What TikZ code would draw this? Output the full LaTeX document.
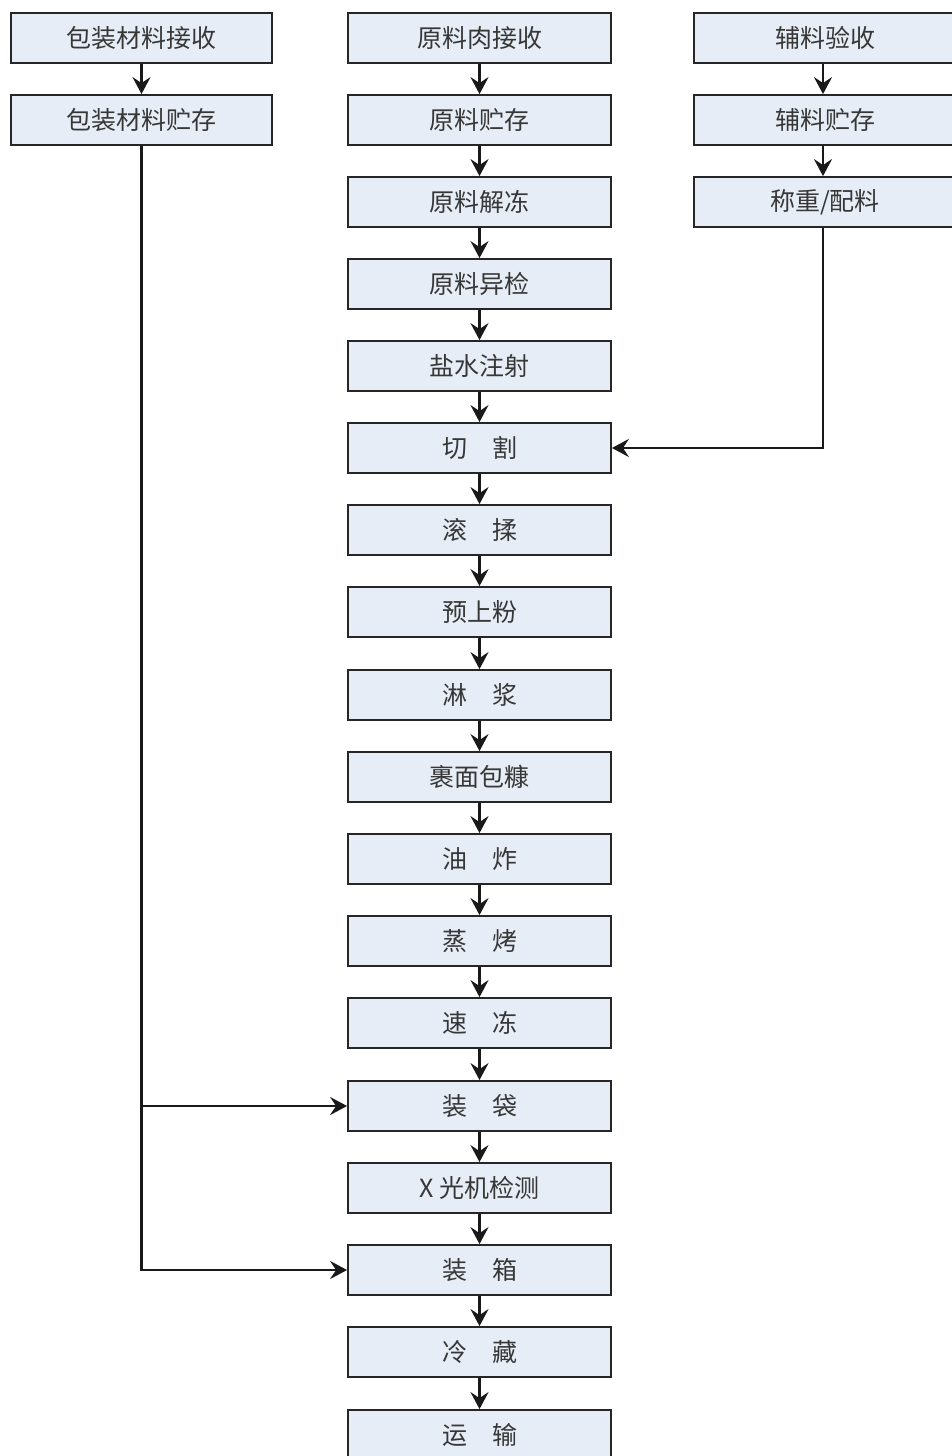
\documentclass[tikz,border=0pt]{standalone}
\usepackage{fontspec}
\newfontfamily\cjk{Noto Sans CJK SC}
\usepackage{tikz}
\usetikzlibrary{arrows.meta}
\definecolor{boxfill}{RGB}{230,237,246}
\definecolor{boxtext}{RGB}{55,55,55}

\begin{document}
\begin{tikzpicture}
      [x=1pt, y=-1pt,
       >={Stealth[length=17pt, width=18pt, inset=6pt]},
       every node/.style={font=\cjk\fontsize{25}{30}\selectfont, text=boxtext},
       stage/.style={draw=black!85, fill=boxfill, line width=1.8pt,
         minimum width=263pt, minimum height=50pt, inner sep=0pt},
       auxstage/.style={stage, minimum width=300pt},
       flow/.style={->, line width=2.4pt, black!90}]
      \useasboundingbox (0, 0) rectangle (951, 1456);

      % packaging materials
      \node (pkgin) [stage, minimum width=261pt] at (141.5, 38) {包装材料接收};
      \node (pkgstore) [stage, minimum width=261pt] at (141.5, 120) {包装材料贮存};

      % raw meat line
      \node (rawin) [stage] at (479.5, 38) {原料肉接收};
      \node (rawstore) [stage] at (479.5, 120) {原料贮存};
      \node (thaw) [stage] at (479.5, 202) {原料解冻};
      \node (inspect) [stage] at (479.5, 284) {原料异检};
      \node (brine) [stage] at (479.5, 366) {盐水注射};
      \node (cut) [stage] at (479.5, 448) {切　割};
      \node (tumble) [stage] at (479.5, 530) {滚　揉};
      \node (predust) [stage] at (479.5, 612) {预上粉};
      \node (batter) [stage] at (479.5, 695) {淋　浆};
      \node (crumb) [stage] at (479.5, 777) {裹面包糠};
      \node (fry) [stage] at (479.5, 859) {油　炸};
      \node (steam) [stage] at (479.5, 941) {蒸　烤};
      \node (freeze) [stage] at (479.5, 1023) {速　冻};
      \node (bag) [stage] at (479.5, 1106) {装　袋};
      \node (xray) [stage] at (479.5, 1188) {X 光机检测};
      \node (box) [stage] at (479.5, 1270) {装　箱};
      \node (chill) [stage] at (479.5, 1352) {冷　藏};
      \node (ship) [stage] at (479.5, 1435) {运　输};

      % auxiliary materials (boxes run past the right edge)
      \node (auxin) [auxstage] at (844, 38) {辅料验收\hspace*{38pt}};
      \node (auxstore) [auxstage] at (844, 120) {辅料贮存\hspace*{38pt}};
      \node (weigh) [auxstage] at (844, 202) {称重/配料\hspace*{38pt}};
      \coordinate (auxaxis) at (823, 0);

      \draw [flow] (pkgin) -- (pkgstore);
      \draw [flow] (auxin.south -| auxaxis) -- (auxstore.north -| auxaxis);
      \draw [flow] (auxstore.south -| auxaxis) -- (weigh.north -| auxaxis);

      \draw [flow] (rawin) -- (rawstore);
      \draw [flow] (rawstore) -- (thaw);
      \draw [flow] (thaw) -- (inspect);
      \draw [flow] (inspect) -- (brine);
      \draw [flow] (brine) -- (cut);
      \draw [flow] (cut) -- (tumble);
      \draw [flow] (tumble) -- (predust);
      \draw [flow] (predust) -- (batter);
      \draw [flow] (batter) -- (crumb);
      \draw [flow] (crumb) -- (fry);
      \draw [flow] (fry) -- (steam);
      \draw [flow] (steam) -- (freeze);
      \draw [flow] (freeze) -- (bag);
      \draw [flow] (bag) -- (xray);
      \draw [flow] (xray) -- (box);
      \draw [flow] (box) -- (chill);
      \draw [flow] (chill) -- (ship);

      \draw [flow] (weigh.south -| auxaxis) |- (cut.east);
      \draw [flow] (pkgstore.south) |- (box.west);
      \coordinate (split) at (pkgstore.south |- bag.west);
      \draw [flow] (split) -- (bag.west);
    \end{tikzpicture}
\end{document}
